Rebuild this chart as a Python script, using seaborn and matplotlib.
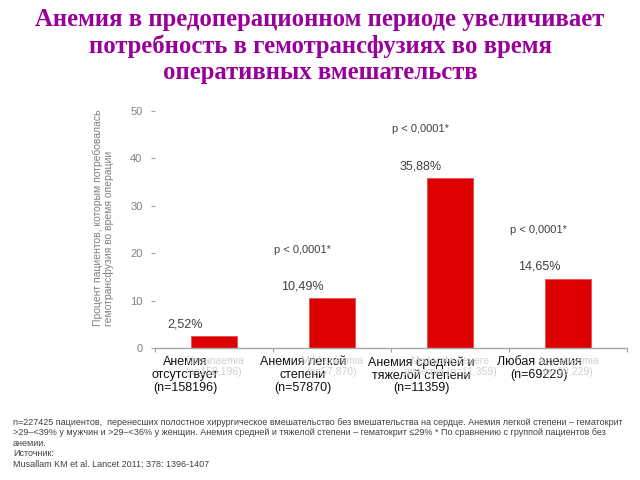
import matplotlib
matplotlib.use("Agg")
import matplotlib.pyplot as plt
import matplotlib.transforms as mtransforms
import seaborn as sns
import pandas as pd

# ---- data ----
categories = ["Анемия\nотсутствует\n(n=158196)",
              "Анемия легкой\nстепени\n(n=57870)",
              "Анемия средней и\nтяжелой степени\n(n=11359)",
              "Любая анемия\n(n=69229)"]
ghost_labels = ["Nonanaemia\n(n=158,196)",
                "Mild anaemia\n(n=57,870)",
                "Moderate-severe\nanaemia (n=11,359)",
                "Any anaemia\n(n=69,229)"]
values = [2.52, 10.49, 35.88, 14.65]
value_labels = ["2,52%", "10,49%", "35,88%", "14,65%"]
p_labels = ["", "p < 0,0001*", "p < 0,0001*", "p < 0,0001*"]
yticks = [0, 10, 20, 30, 40, 50]

title = ("Анемия в предоперационном периоде увеличивает\n"
         "потребность в гемотрансфузиях во время\n"
         "оперативных вмешательств")
ylabel = ("Процент пациентов, которым потребовалась\n"
          "гемотрансфузия во время операции")
footnote = ("n=227425 пациентов,  перенесших полостное хирургическое вмешательство без вмешательства на сердце. Анемия легкой степени – гематокрит\n"
            ">29–<39% у мужчин и >29–<36% у женщин. Анемия средней и тяжелой степени – гематокрит ≤29% * По сравнению с группой пациентов без\n"
            "анемии.\n"
            "Источник:\n"
            "Musallam KM et al. Lancet 2011; 378: 1396-1407")

sns.set_theme(style="white")
plt.rcParams['font.family'] = ['Liberation Sans', 'DejaVu Sans']

df = pd.DataFrame({"cat": categories, "val": values})

fig = plt.figure(figsize=(6.4, 4.8), dpi=100)
ax = fig.add_axes([155/640, 1 - 348/480, (627 - 155)/640, (348 - 111)/480])

sns.barplot(data=df, x="cat", y="val", color="#dc0000", width=0.39,
            saturation=1, ax=ax, edgecolor="#e85050", linewidth=0.6)

ax.set_xlim(-0.5, 3.5)
ax.set_ylim(0, 50)
ax.set_yticks(yticks)
ax.set_yticklabels([str(t) for t in yticks], color="#808080", fontsize=8)
ax.tick_params(axis="y", length=3, color="#a0a0a0", width=0.8, pad=6, left=True)
ax.set_xlabel("")
ax.set_ylabel("")

for s in ["top", "right", "left"]:
    ax.spines[s].set_visible(False)
ax.spines["bottom"].set_color("#a8a8a8")
ax.spines["bottom"].set_linewidth(1.0)

# category tick labels (shifted left as in reference)
ax.set_xticks(range(len(categories)))
ax.set_xticklabels(categories, fontsize=9, color="#111111", linespacing=1.08)
ax.tick_params(axis="x", length=0, pad=6)
off = mtransforms.ScaledTranslation(-0.29, 0, fig.dpi_scale_trans)
for lab in ax.get_xticklabels():
    lab.set_transform(lab.get_transform() + off)
    lab.set_zorder(5)

# boundary tick marks
ax.set_xticks([i - 0.5 for i in range(len(categories) + 1)], minor=True)
ax.tick_params(axis="x", which="minor", length=3, color="#a0a0a0", width=0.8, bottom=True)

# faint English ghost labels
for i, g in enumerate(ghost_labels):
    ax.annotate(g, xy=(i, 0), xycoords=("data", "axes fraction"),
                xytext=(0, -6), textcoords="offset points",
                ha="center", va="top", fontsize=7.5, color="#d0d0d0",
                zorder=1, annotation_clip=False, linespacing=1.1)

# value and p labels
for i, (v, vl, pl) in enumerate(zip(values, value_labels, p_labels)):
    ax.annotate(vl, xy=(i, v), xytext=(-21, 8.5), textcoords="offset points",
                ha="center", va="center", fontsize=9, color="#404040")
    if pl:
        ax.annotate(pl, xy=(i, v), xytext=(-21, 35), textcoords="offset points",
                    ha="center", va="center", fontsize=8, color="#404040")

# title
fig.text(0.5, 1 - 46/480, title, ha="center", va="center",
         fontsize=17.8, fontweight="bold", color="#990099",
         family=["Liberation Serif", "DejaVu Serif"], linespacing=1.18)

# y label
fig.text(103/640, 1 - 218/480, ylabel, rotation=90, ha="center", va="center",
         fontsize=7.5, color="#808080", multialignment="left", linespacing=1.05)

# footnote
fig.text(13/640, 1 - 418/480, footnote, ha="left", va="top",
         fontsize=6.5, color="#404040", linespacing=1.2)

fig.savefig("out.png", dpi=100)
